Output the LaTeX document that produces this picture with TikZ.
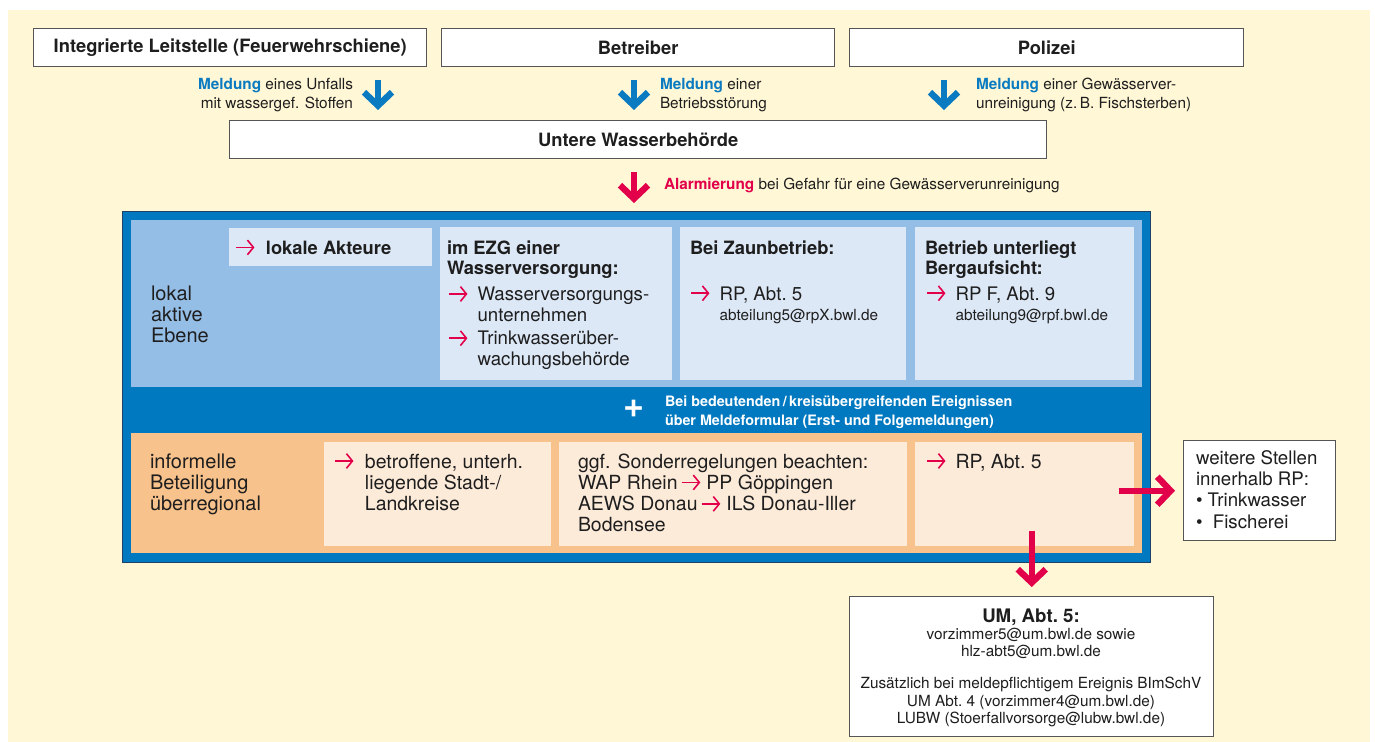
\documentclass[tikz,border=0pt]{standalone}
\usepackage{fontspec}
\setmainfont{TeX Gyre Heros}
\usetikzlibrary{arrows.meta,calc}
\definecolor{bgyel}{HTML}{FFF7D6}
\definecolor{boxgray}{HTML}{555555}
\definecolor{arrblue}{HTML}{0A7BC1}
\definecolor{bigblue}{HTML}{0079C1}
\definecolor{bignavy}{HTML}{1D4266}
\definecolor{panblue}{HTML}{95BEE6}
\definecolor{subblue}{HTML}{DDE8F7}
\definecolor{panor}{HTML}{F8C28C}
\definecolor{subor}{HTML}{FDEBDA}
\definecolor{arrred}{HTML}{E2004A}
\definecolor{txtdark}{HTML}{1E1E1E}
\newcommand\fTitle{\fontsize{13.75pt}{15pt}\selectfont\bfseries}
\newcommand\fMeld{\fontsize{11.5pt}{13.9pt}\selectfont}
\newcommand\fLabel{\fontsize{15pt}{15.75pt}\selectfont}
\newcommand\fBody{\fontsize{14pt}{15.4pt}\selectfont}
\newcommand\fOr{\fontsize{14.6pt}{15.75pt}\selectfont}
\newcommand\fMail{\fontsize{11.5pt}{13pt}\selectfont}
\newcommand\fBand{\fontsize{10.75pt}{14.25pt}\selectfont\bfseries}
\newcommand\fUMt{\fontsize{14pt}{13pt}\selectfont\bfseries}
\newcommand\fUM{\fontsize{11.5pt}{13pt}\selectfont}
\newcommand\fWeit{\fontsize{14pt}{16pt}\selectfont}
\newcommand\TL[1]{\begin{tabular}[t]{@{}l@{}}#1\end{tabular}}
\newcommand\TR[1]{\begin{tabular}[t]{@{}r@{}}#1\end{tabular}}
\newcommand\TC[1]{\begin{tabular}[t]{@{}c@{}}#1\end{tabular}}
\newcommand\rar{\tikz[baseline=-0.36em]\draw[arrred,line width=1.2pt,-{Straight Barb[length=4.5pt,width=11pt]}] (0,0)--(14pt,0);}
\newcommand\meld{\textcolor{arrblue}{\bfseries Meldung}}
\begin{document}
\begin{tikzpicture}[x=0.75pt,y=-0.75pt,
  box/.style={draw=boxgray, line width=1.1pt, fill=white, inner sep=0pt, anchor=north west},
  area/.style={inner sep=0pt, anchor=north west, draw=none},
  txt/.style={inner sep=0pt, outer sep=0pt, text=txtdark},
  fatblue/.style={draw=arrblue, line width=4.8pt, -{Straight Barb[length=10pt,width=21pt]}},
  fatred/.style={draw=arrred, line width=4.8pt, -{Straight Barb[length=10pt,width=21pt]}},
]
\path[use as bounding box] (0,0) rectangle (1375,742);
\fill[bgyel] (8,10) rectangle (1370,742);

% top boxes
\node[box, minimum width=294.75pt, minimum height=28.5pt, font=\fTitle, text=txtdark] (leit) at (33,28) {Integrierte Leitstelle (Feuerwehrschiene)};
\node[box, minimum width=294.75pt, minimum height=28.5pt, font=\fTitle, text=txtdark] (betr) at (441,28) {Betreiber};
\node[box, minimum width=295.5pt, minimum height=28.5pt, font=\fTitle, text=txtdark] (pol) at (849,28) {Polizei};
\node[box, minimum width=612.75pt, minimum height=28.5pt, font=\fTitle, text=txtdark] (uwb) at (229,120) {Untere Wasserbehörde};

% blue arrows
\coordinate (ca) at (378,0);
\coordinate (cb) at (634,0);
\coordinate (cc) at (944,0);
\draw[fatblue, shorten <=9.75pt, shorten >=7.5pt] (ca |- leit.south) -- (ca |- uwb.north);
\draw[fatblue, shorten <=9.75pt, shorten >=7.5pt] (cb |- betr.south) -- (cb |- uwb.north);
\draw[fatblue, shorten <=9.75pt, shorten >=7.5pt] (cc |- pol.south) -- (cc |- uwb.north);
\node[txt, anchor=base east, font=\fMeld] (m1) at (353,89.5) {\TR{\meld{} eines Unfalls\\mit wassergef. Stoffen}};
\node[txt, anchor=base west, font=\fMeld] (m2) at (660,89.5) {\TL{\meld{} einer\\Betriebsstörung}};
\node[txt, anchor=base west, font=\fMeld] (m3) at (976,89.5) {\TL{\meld{} einer Gewässerver-\\unreinigung (z.\,B. Fischsterben)}};

% big frame
\node[area, draw=bignavy, line width=1pt, fill=bigblue, minimum width=771pt, minimum height=263.25pt] (big) at (122,211) {};
\draw[fatred, shorten <=9.75pt, shorten >=6pt] (cb |- uwb.south) -- (cb |- big.north);
\node[txt, anchor=base west, font=\fMeld] (alarm) at (664,189.5) {\textcolor{arrred}{\bfseries Alarmierung} bei Gefahr für eine Gewässerverunreinigung};

% upper panel
\node[area, fill=panblue, minimum width=758.25pt, minimum height=125.25pt] (lpan) at (131,220) {};
\node[area, fill=subblue, minimum width=152.25pt, minimum height=28.5pt] (lakt) at (229,228) {};
\node[area, fill=subblue, minimum width=174pt, minimum height=114.75pt] (ezg) at (440,227) {};
\node[area, fill=subblue, minimum width=169.5pt, minimum height=114.75pt] (zaun) at (680,227) {};
\node[area, fill=subblue, minimum width=164.25pt, minimum height=114.75pt] (berg) at (915,227) {};

\node[txt, anchor=base west, font=\fLabel] (lokal) at (151,300) {\TL{lokal\\aktive\\Ebene}};
\node[txt, anchor=base west, font=\fTitle] (laktt) at (235,254) {\rar\hspace{8pt}lokale Akteure};
\node[txt, anchor=base west, font=\fTitle] (ezgh) at (447,254) {\TL{im EZG einer\\Wasserversorgung:}};
\node[txt, anchor=base west, font=\fBody] (ezgt) at (448,300.7) {\begin{tabular}[t]{@{}l@{\hspace{7pt}}l@{}}\rar & Wasserversorgungs-\\ & unternehmen\\[2pt] \rar & Trinkwasserüber-\\ & wachungsbehörde\end{tabular}};
\node[txt, anchor=base west, font=\fTitle] (zaunh) at (690,254) {Bei Zaunbetrieb:};
\node[txt, anchor=base west, font=\fBody] (zaunt) at (690,300) {\begin{tabular}[t]{@{}l@{\hspace{7pt}}l@{}}\rar & RP, Abt.~5\\ & {\fMail abteilung5@rpX.bwl.de}\end{tabular}};
\node[txt, anchor=base west, font=\fTitle] (bergh) at (925,254) {\TL{Betrieb unterliegt\\Bergaufsicht:}};
\node[txt, anchor=base west, font=\fBody] (bergt) at (926,300) {\begin{tabular}[t]{@{}l@{\hspace{7pt}}l@{}}\rar & RP F, Abt.~9\\ & {\fMail abteilung9@rpf.bwl.de}\end{tabular}};

% middle band
\node[txt, text=white, font=\fontsize{27pt}{27pt}\selectfont\bfseries] (plus) at (634,409) {+};
\node[txt, text=white, anchor=base west, font=\fBand] (band) at (665,406) {\TL{Bei bedeutenden\,/\,kreisübergreifenden Ereignissen\\über Meldeformular (Erst- und Folgemeldungen)}};

% lower panel
\node[area, fill=panor, minimum width=758.25pt, minimum height=90pt] (opan) at (131,433) {};
\node[area, fill=subor, minimum width=170.25pt, minimum height=78pt] (kreise) at (324,442) {};
\node[area, fill=subor, minimum width=261pt, minimum height=78pt] (sonder) at (559,442) {};
\node[area, fill=subor, minimum width=164.25pt, minimum height=78pt] (rp5) at (915,442) {};

\node[txt, anchor=base west, font=\fLabel] (inf) at (150,468) {\TL{informelle\\Beteiligung\\überregional}};
\node[txt, anchor=base west, font=\fOr] (kreiset) at (334,468) {\begin{tabular}[t]{@{}l@{\hspace{8pt}}l@{}}\rar & betroffene, unterh.\\ & liegende Stadt-/\\ & Landkreise\end{tabular}};
\node[txt, anchor=base west, font=\fOr] (sondert) at (578,468) {\TL{ggf. Sonderregelungen beachten:\\WAP Rhein\,\rar\hspace{4pt}PP Göppingen\\AEWS Donau\,\rar\hspace{4pt}ILS Donau-Iller\\Bodensee}};
\node[txt, anchor=base west, font=\fOr] (rp5t) at (926,468) {\rar\hspace{7pt}RP, Abt.~5};

% right box and arrows
\node[box, minimum width=114pt, minimum height=75pt] (weit) at (1183,440) {};
\node[txt, anchor=base west, font=\fWeit] (weitt) at (1196,464) {\TL{weitere Stellen\\innerhalb RP:\\\textbullet\ Trinkwasser\\\textbullet\ \ Fischerei}};
\draw[fatred, shorten >=6pt] ($(rp5.east |- weit.west)+(-16,0)$) -- (weit.west);

\node[box, minimum width=273pt, minimum height=105pt] (um) at (849,596) {};
\draw[fatred, shorten >=6.75pt] ($(rp5.south -| um.north)+(0,-16)$) -- (um.north);
\node[txt, anchor=base, font=\fUM] (umt) at (1031,622) {\TC{{\fUMt UM, Abt.~5:}\\vorzimmer5@um.bwl.de sowie\\hlz-abt5@um.bwl.de\\[11pt]Zusätzlich bei meldepflichtigem Ereignis BImSchV\\UM Abt.~4 (vorzimmer4@um.bwl.de)\\LUBW (Stoerfallvorsorge@lubw.bwl.de)}};
\end{tikzpicture}
\end{document}
